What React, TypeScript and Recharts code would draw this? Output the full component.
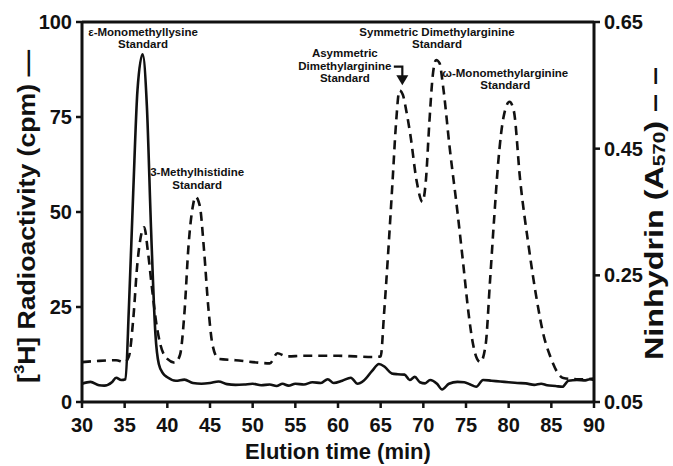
import { LineChart, Line, XAxis, YAxis, ReferenceLine, ReferenceDot } from "recharts"

const FONT = "'Liberation Sans', Arial, Helvetica, sans-serif"

// radioactivity trace (solid, left axis)
const radioTime = [
  30, 31, 32, 32.6, 33.5, 34, 34.6, 35.1, 35.5, 36, 36.5, 37.1, 37.6, 38.1, 38.6, 39, 39.5, 40, 41, 42,
  43, 44, 45, 46, 47, 48, 49, 50, 51, 52, 52.8, 53.5, 54.2, 55, 56, 57, 58, 58.8, 59.5, 60.5,
  61.5, 62.3, 63, 64, 64.8, 65.5, 66.3, 67, 67.8, 68.4, 69, 69.6, 70.2, 70.8, 71.6, 72.2, 73, 74, 74.8, 75.5,
  76.2, 77, 78, 79, 80, 81, 82, 83, 83.8, 84.5, 85.5, 86.3, 87, 88, 89, 89.5, 90,
]
const radioCpm = [
  4.8, 5.3, 4.4, 4.3, 5.2, 6.4, 5.8, 6.0, 25, 55, 82, 91.5, 78, 45, 18, 10, 7.5, 6.5, 5.6, 5.9,
  5.0, 4.8, 5.0, 5.4, 4.7, 4.5, 4.6, 4.8, 4.4, 4.6, 4.2, 4.8, 4.3, 4.8, 4.6, 5.2, 5.0, 6.0, 5.0, 5.6,
  6.4, 4.8, 5.6, 8.2, 10.0, 9.2, 7.5, 7.3, 7.2, 5.8, 6.6, 5.2, 4.9, 5.8, 4.8, 3.3, 4.8, 5.3, 5.2, 4.6,
  4.0, 5.8, 5.6, 5.4, 5.2, 5.0, 4.9, 4.5, 4.8, 4.4, 4.2, 4.0, 5.6, 5.8, 5.7, 6.0, 5.8,
]

// ninhydrin trace (dashed, right axis)
const ninTime = [
  30, 32, 34, 35, 35.5, 36, 36.5, 37, 37.3, 37.7, 38.2, 38.7, 39.2, 40, 40.9, 41.5, 42, 42.5, 43, 43.3,
  43.8, 44.3, 44.8, 45.3, 46, 48, 50, 52, 52.9, 54, 56, 58, 60, 62, 64, 65, 65.4, 65.9, 66.4, 66.8,
  67.2, 67.6, 68, 68.5, 69.2, 69.9, 70.3, 70.7, 71.1, 71.5, 71.9, 72.3, 73.1, 74, 74.7, 75.3, 75.8, 76.3, 76.7, 77.3,
  77.8, 78.3, 78.8, 79.4, 80.1, 80.6, 81.35, 82.3, 83.3, 84.1, 84.9, 85.7, 86.4, 88, 89, 90,
]
const ninAbs = [
  0.113, 0.115, 0.116, 0.113, 0.122, 0.18, 0.27, 0.318, 0.326, 0.29, 0.23, 0.175, 0.14, 0.118, 0.112, 0.125, 0.19, 0.3, 0.36, 0.374,
  0.36, 0.29, 0.2, 0.14, 0.118, 0.116, 0.113, 0.111, 0.127, 0.122, 0.123, 0.123, 0.123, 0.122, 0.121, 0.122, 0.19, 0.29, 0.4, 0.49,
  0.542, 0.535, 0.51, 0.47, 0.4, 0.366, 0.4, 0.49, 0.565, 0.59, 0.585, 0.55, 0.45, 0.35, 0.265, 0.19, 0.143, 0.118, 0.113, 0.14,
  0.238, 0.34, 0.432, 0.5, 0.524, 0.51, 0.4, 0.3, 0.211, 0.155, 0.121, 0.097, 0.088, 0.086, 0.086, 0.087,
]

const timeTicks = [30, 35, 40, 45, 50, 55, 60, 65, 70, 75, 80, 85, 90]
const cpmTicks = [0, 25, 50, 75, 100]
const absTicks = [0.05, 0.25, 0.45, 0.65]

// peak annotations: [time, cpm, lines]
const notes: [number, number, string[]][] = [
  [37.15, 97.4, ["ε-Monomethyllysine", "Standard"]],
  [43.5, 60.5, ["3-Methylhistidine", "Standard"]],
  [71.6, 97.4, ["Symmetric Dimethylarginine", "Standard"]],
  [60.8, 91.8, ["Asymmetric", "Dimethylarginine", "Standard"]],
  [79.6, 86.6, ["ω-Monomethylarginine", "Standard"]],
]

const radioData = radioTime.map((t, i) => ({ t, cpm: radioCpm[i] }))
const ninData = ninTime.map((t, i) => ({ t, abs: ninAbs[i] }))

function Note({ viewBox, lines, arrow }: any) {
  const cx = viewBox.x + viewBox.width / 2
  const cy = viewBox.y + viewBox.height / 2
  return (
    <g>
      {lines.map((l: string, i: number) => (
        <text key={i} x={cx} y={cy + i * 12.5} textAnchor="middle" dominantBaseline="central"
          fontFamily={FONT} fontSize={11.5} fontWeight="bold" fill="#111">
          {l}
        </text>
      ))}
      {arrow && (
        <g>
          <path d={`M${cx + 49},${cy + 13.5} H${cx + 57.5} V${cy + 24}`} stroke="#111" strokeWidth={2.2} fill="none" />
          <path d={`M${cx + 51.5},${cy + 22} L${cx + 63.5},${cy + 22} L${cx + 57.5},${cy + 32} Z`} fill="#111" />
        </g>
      )}
    </g>
  )
}

function LeftTitle({ viewBox }: any) {
  const x = viewBox.x + 26
  const y = 216.5
  return (
    <text x={x} y={y} transform={`rotate(-90 ${x} ${y})`} textAnchor="middle" dominantBaseline="central"
      fontFamily={FONT} fontSize={24} fontWeight="bold" fill="#111" textLength={333} lengthAdjust="spacingAndGlyphs">
      [<tspan fontSize={15} dy={-8}>3</tspan><tspan dy={8}>H] Radioactivity (cpm) —</tspan>
    </text>
  )
}

function RightTitle({ viewBox }: any) {
  const x = viewBox.x + 60
  const y = 213.5
  return (
    <text x={x} y={y} transform={`rotate(-90 ${x} ${y})`} textAnchor="middle" dominantBaseline="central"
      fontFamily={FONT} fontSize={25} fontWeight="bold" fill="#111" textLength={293} lengthAdjust="spacingAndGlyphs">
      Ninhydrin (A<tspan fontSize={16} dy={5}>570</tspan><tspan dy={-5}>) – –</tspan>
    </text>
  )
}

const tickStyle = { fontFamily: FONT, fontSize: 20, fontWeight: "bold", fill: "#111" }
const axisLine = { stroke: "#111", strokeWidth: 3 }
const tickLine = { stroke: "#111", strokeWidth: 2.5 }

export default function App() {
  return (
    <div style={{ position: "absolute", left: 0, top: 0, background: "#fff" }}>
      <LineChart width={673} height={466} margin={{ top: 22, right: 0, bottom: 0, left: 0 }}>
        <XAxis type="number" dataKey="t" domain={[30, 90]} ticks={timeTicks} allowDuplicatedCategory={false}
          height={64} tick={tickStyle} axisLine={axisLine} tickLine={tickLine} tickSize={6} tickMargin={10}
          label={{ value: "Elution time (min)", position: "insideBottom", offset: 7,
            style: { fontFamily: FONT, fontSize: 22, fontWeight: "bold", fill: "#111" } }} />
        <YAxis yAxisId="left" domain={[0, 100]} ticks={cpmTicks} width={82} tick={tickStyle}
          axisLine={axisLine} tickLine={tickLine} tickSize={6} tickMargin={4} label={<LeftTitle />} />
        <YAxis yAxisId="right" orientation="right" domain={[0.05, 0.65]} ticks={absTicks} width={79}
          tickFormatter={(v: number) => v.toFixed(2)} tick={tickStyle} axisLine={axisLine} tickLine={tickLine}
          tickSize={6} tickMargin={4} label={<RightTitle />} />
        <ReferenceLine yAxisId="left" y={100} stroke="#111" strokeWidth={3} />
        <Line yAxisId="right" data={ninData} dataKey="abs" type="monotone" stroke="#111" strokeWidth={2.6}
          strokeDasharray="9 6" dot={false} isAnimationActive={false} />
        <Line yAxisId="left" data={radioData} dataKey="cpm" type="monotone" stroke="#111" strokeWidth={2.6}
          dot={false} isAnimationActive={false} />
        {notes.map(([t, y, lines], i) => (
          <ReferenceDot key={i} yAxisId="left" x={t} y={y} r={1} fill="none" stroke="none"
            label={<Note lines={lines} arrow={lines[0] === "Asymmetric"} />} />
        ))}
      </LineChart>
    </div>
  )
}
